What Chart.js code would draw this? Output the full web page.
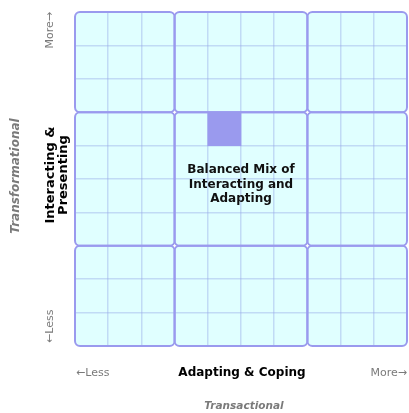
<!DOCTYPE html>
<html>
<head>
<meta charset="utf-8">
<script src="https://cdn.jsdelivr.net/npm/chart.js@4"></script>
<style>
  html, body { margin: 0; padding: 0; background: #fff; }
  #wrap { width: 409px; height: 413px; }
</style>
</head>
<body>
<div id="wrap"><canvas id="grid" width="409" height="413"></canvas></div>
<script>
// grid columns (10 x 10 cells), major block breaks and the highlighted cell
const columns = ["1", "2", "3", "4", "5", "6", "7", "8", "9", "10"];
const highlight = [null, null, null, null, [6, 7], null, null, null, null, null];
const majorBreaks = [0, 3, 7, 10];

const xTitle = "Adapting & Coping";
const yTitle = ["Interacting &", "Presenting"];
const xGroup = "Transactional";
const yGroup = "Transformational";
const lessLabel = "\u2190Less";
const moreLabel = "More\u2192";
const centerText = ["Balanced Mix of", "Interacting and", "Adapting"];

const colors = {
  fill: "#e0ffff",
  major: "#9a9aee",
  minor: "rgba(150, 170, 232, 0.42)",
  cell: "#9a9aee",
  gray: "#7a7a7a",
};

function isMajor(v) {
  return majorBreaks.includes(v);
}

function roundRect(ctx, x, y, w, h, r) {
  ctx.beginPath();
  ctx.moveTo(x + r, y);
  ctx.lineTo(x + w - r, y);
  ctx.arcTo(x + w, y, x + w, y + r, r);
  ctx.lineTo(x + w, y + h - r);
  ctx.arcTo(x + w, y + h, x + w - r, y + h, r);
  ctx.lineTo(x + r, y + h);
  ctx.arcTo(x, y + h, x, y + h - r, r);
  ctx.lineTo(x, y + r);
  ctx.arcTo(x, y, x + r, y, r);
  ctx.closePath();
}

function eachBlock(chart, fn) {
  const xs = chart.scales.x;
  const ys = chart.scales.y;
  for (let i = 0; i < majorBreaks.length - 1; i++) {
    for (let j = 0; j < majorBreaks.length - 1; j++) {
      const x1 = xs.getPixelForValue(majorBreaks[i] - 0.5);
      const x2 = xs.getPixelForValue(majorBreaks[i + 1] - 0.5);
      const y1 = ys.getPixelForValue(majorBreaks[j + 1]);
      const y2 = ys.getPixelForValue(majorBreaks[j]);
      fn(x1, y1, x2 - x1, y2 - y1);
    }
  }
}

const blocks = {
  id: "blocks",
  beforeDraw(chart) {
    const ctx = chart.ctx;
    ctx.save();
    ctx.fillStyle = colors.fill;
    eachBlock(chart, (x, y, w, h) => {
      roundRect(ctx, x, y, w, h, 5);
      ctx.fill();
    });
    ctx.restore();
  },
  afterDatasetsDraw(chart) {
    const ctx = chart.ctx;
    ctx.save();
    ctx.strokeStyle = colors.major;
    ctx.lineWidth = 2;
    eachBlock(chart, (x, y, w, h) => {
      roundRect(ctx, x, y, w, h, 5);
      ctx.stroke();
    });
    ctx.restore();
  },
  afterDraw(chart) {
    const ctx = chart.ctx;
    const a = chart.chartArea;
    const cx = (a.left + a.right) / 2;
    const cy = (a.top + a.bottom) / 2;
    ctx.save();
    ctx.textBaseline = "middle";

    // bottom labels
    ctx.fillStyle = colors.gray;
    ctx.font = "11px 'DejaVu Sans'";
    ctx.textAlign = "left";
    ctx.fillText(lessLabel, a.left + 1, a.bottom + 27);
    ctx.textAlign = "right";
    ctx.fillText(moreLabel, a.right, a.bottom + 27);
    ctx.fillStyle = "#000";
    ctx.font = "bold 12px 'DejaVu Sans'";
    ctx.textAlign = "center";
    ctx.fillText(xTitle, cx + 1, a.bottom + 27);
    ctx.fillStyle = colors.gray;
    ctx.font = "italic bold 10.5px 'DejaVu Sans'";
    ctx.fillText(xGroup, cx + 3, a.bottom + 60);

    // centre block caption
    const mid = (chart.scales.x.getPixelForValue(majorBreaks[1] - 0.5) +
                 chart.scales.x.getPixelForValue(majorBreaks[2] - 0.5)) / 2;
    ctx.fillStyle = "#111";
    ctx.font = "bold 12px 'DejaVu Sans'";
    centerText.forEach((t, i) => ctx.fillText(t, mid, 170 + i * 14.5));

    // left rotated labels
    ctx.save();
    ctx.translate(50, a.top);
    ctx.rotate(-Math.PI / 2);
    ctx.fillStyle = colors.gray;
    ctx.font = "11px 'DejaVu Sans'";
    ctx.textAlign = "right";
    ctx.fillText(moreLabel, 0, 0);
    ctx.restore();

    ctx.save();
    ctx.translate(50, a.bottom - 3);
    ctx.rotate(-Math.PI / 2);
    ctx.fillStyle = colors.gray;
    ctx.font = "11px 'DejaVu Sans'";
    ctx.textAlign = "left";
    ctx.fillText(lessLabel, 0, 0);
    ctx.restore();

    ctx.save();
    ctx.translate(0, cy - 4);
    ctx.rotate(-Math.PI / 2);
    ctx.textAlign = "center";
    ctx.fillStyle = "#000";
    ctx.font = "bold 13px 'DejaVu Sans'";
    ctx.fillText(yTitle[0], 0, 51);
    ctx.fillText(yTitle[1], 0, 64);
    ctx.fillStyle = colors.gray;
    ctx.font = "italic bold 12px 'DejaVu Sans'";
    ctx.fillText(yGroup, -1, 16);
    ctx.restore();

    ctx.restore();
  },
};

new Chart(document.getElementById("grid"), {
  type: "bar",
  data: {
    labels: columns,
    datasets: [
      {
        data: highlight,
        backgroundColor: colors.cell,
        borderWidth: 0,
        barPercentage: 1,
        categoryPercentage: 1,
      },
    ],
  },
  options: {
    responsive: false,
    animation: false,
    layout: { padding: { left: 75, right: 2, top: 12, bottom: 67 } },
    plugins: { legend: { display: false }, tooltip: { enabled: false } },
    scales: {
      x: {
        ticks: { display: false },
        border: { display: false },
        grid: {
          drawTicks: false,
          lineWidth: 1.5,
          color: (c) => (c.index === undefined || isMajor(c.index) ? "transparent" : colors.minor),
        },
      },
      y: {
        min: 0,
        max: 10,
        ticks: { display: false, stepSize: 1 },
        border: { display: false },
        grid: {
          drawTicks: false,
          lineWidth: 1.5,
          color: (c) => (!c.tick || isMajor(c.tick.value) ? "transparent" : colors.minor),
        },
      },
    },
  },
  plugins: [blocks],
});
</script>
</body>
</html>
